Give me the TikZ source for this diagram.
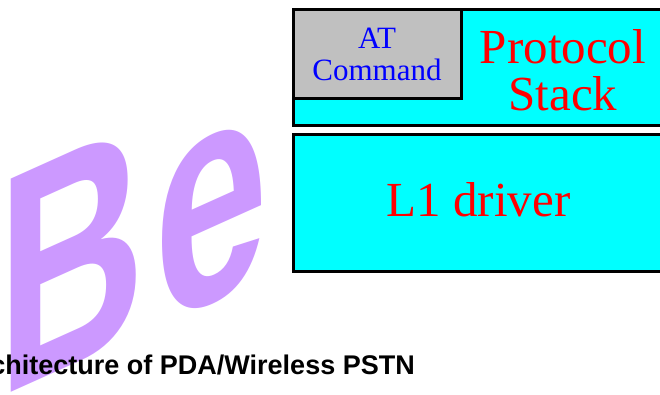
\documentclass[tikz,border=0pt]{standalone}
\usepackage{fontspec}
\setmainfont{Liberation Serif}
\newfontfamily\arialfont{Liberation Sans}
\definecolor{bviolet}{HTML}{CC99FF}
\definecolor{cyanfill}{HTML}{00FFFF}
\definecolor{grayfill}{HTML}{C0C0C0}
\begin{document}
\begin{tikzpicture}[x=1pt,y=1pt,
  layerbox/.style={draw=black, line width=3pt, fill=cyanfill, outer sep=0pt, inner sep=0pt, anchor=north west},
  atbox/.style={layerbox, fill=grayfill},
  redtext/.style={text=red, inner sep=0pt, outer sep=0pt, align=center},
  bluetext/.style={text=blue, inner sep=0pt, outer sep=0pt, align=center}]
\useasboundingbox (0,0) rectangle (660,394);
\clip (0,0) rectangle (660,394);
% watermark letters
\begin{scope}[shift={(-2,-4)}, yslant=0.45, xscale=2.05, yscale=3.1]
\node[transform shape, anchor=base west, inner sep=0pt, outer sep=0pt, text=bviolet,
  font=\arialfont\bfseries\fontsize{100}{100}\selectfont] (be) at (0,0) {B\kern4pt e};
\end{scope}
% caption
\node[anchor=base east, inner sep=0pt, font=\arialfont\bfseries\fontsize{27}{30}\selectfont] (caption) at (415,20) {chitecture of PDA/Wireless PSTN};
% boxes
\node[layerbox, minimum width=376.5, minimum height=116] (stack) at (293.5,384.5) {};
\node[atbox, minimum width=168, minimum height=89.3] (at) at (293.5,384.5) {};
\node[layerbox, minimum width=376.5, minimum height=136.6] (l1) at (293.5,259.3) {};
% texts
\node[bluetext, font=\fontsize{31}{32.4}\selectfont] (attext) at (377,339.75) {AT\\Command};
\node[redtext, font=\fontsize{49}{46.7}\selectfont] (stacktext) at (563,323.8) {Protocol\\Stack};
\node[redtext, anchor=base, font=\fontsize{49}{50}\selectfont] (l1text) at (478.5,177.3) {L1 driver};
\end{tikzpicture}
\end{document}
